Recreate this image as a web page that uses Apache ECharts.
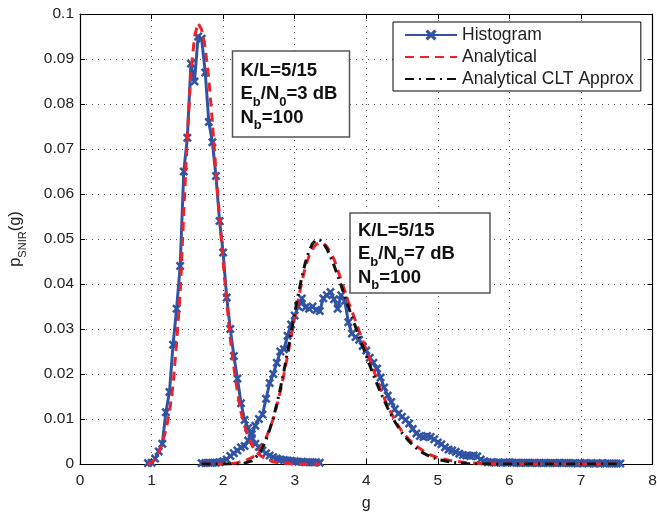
<!DOCTYPE html>
<html><head><meta charset="utf-8">
<script src="https://cdn.jsdelivr.net/npm/echarts@6/dist/echarts.min.js"></script>
<style>html,body{margin:0;padding:0;background:#fff}#c{width:657px;height:513px}</style>
</head><body><div id="c"></div>
<script>
// ---- data (g, p_SNIR(g)) ----
const histLow = [
[0.95,0.0002],[1.00,0.0003],[1.05,0.0012],[1.10,0.0028],[1.15,0.0045],[1.20,0.0115],[1.25,0.0160],
[1.30,0.0265],[1.35,0.0345],[1.40,0.0440],[1.45,0.0650],[1.50,0.0725],[1.55,0.0890],[1.60,0.0850],
[1.65,0.0950],[1.70,0.0945],[1.75,0.0870],[1.80,0.0760],[1.85,0.0715],[1.90,0.0640],[1.95,0.0540],
[2.00,0.0470],[2.05,0.0370],[2.10,0.0300],[2.15,0.0240],[2.20,0.0190],[2.25,0.0135],[2.30,0.0098],
[2.35,0.0080],[2.40,0.0058],[2.45,0.0045],[2.50,0.0038],[2.55,0.0030],[2.60,0.0024],[2.65,0.0019],
[2.70,0.0015],[2.75,0.0012],[2.80,0.0010],[2.85,0.0009],[2.90,0.0008],[2.95,0.0007],[3.00,0.0006],
[3.05,0.0005],[3.10,0.0005],[3.15,0.0004],[3.20,0.0004],[3.25,0.0004],[3.30,0.0004],[3.35,0.0003]
];
const histHigh = [
[1.70,0.0002],[1.75,0.0002],[1.80,0.0003],[1.85,0.0003],[1.90,0.0003],[1.95,0.0004],[2.00,0.0006],
[2.05,0.0010],[2.10,0.0018],[2.15,0.0024],[2.20,0.0030],[2.25,0.0037],[2.30,0.0040],[2.35,0.0052],
[2.40,0.0066],[2.45,0.0085],[2.50,0.0100],[2.55,0.0110],[2.60,0.0145],[2.65,0.0180],[2.70,0.0200],
[2.75,0.0225],[2.80,0.0250],[2.85,0.0255],[2.90,0.0285],[2.95,0.0310],[3.00,0.0330],[3.05,0.0350],
[3.10,0.0368],[3.15,0.0348],[3.20,0.0345],[3.25,0.0350],[3.30,0.0342],[3.35,0.0340],[3.40,0.0368],
[3.45,0.0375],[3.50,0.0382],[3.55,0.0366],[3.60,0.0345],[3.65,0.0375],[3.70,0.0362],[3.75,0.0315],
[3.80,0.0290],[3.85,0.0282],[3.90,0.0276],[3.95,0.0262],[4.00,0.0252],[4.05,0.0236],[4.10,0.0225],
[4.15,0.0212],[4.20,0.0192],[4.25,0.0170],[4.30,0.0152],[4.35,0.0138],[4.40,0.0122],[4.45,0.0112],
[4.50,0.0105],[4.55,0.0098],[4.60,0.0090],[4.65,0.0078],[4.70,0.0068],[4.75,0.0062],[4.80,0.0060],
[4.85,0.0062],[4.90,0.0060],[4.95,0.0055],[5.00,0.0048],[5.05,0.0044],[5.10,0.0037],[5.15,0.0032],
[5.20,0.0030],[5.25,0.0027],[5.30,0.0023],[5.35,0.0020],[5.40,0.0019],[5.45,0.0018],[5.50,0.0019],
[5.55,0.0017],[5.60,0.0010],[5.65,0.0006],[5.70,0.0004],[5.75,0.0004],[5.80,0.0003],[5.85,0.0004],
[5.90,0.0003],[5.95,0.0003],[6.00,0.0004],[6.05,0.0003],[6.10,0.0003],[6.15,0.0002],[6.20,0.0003],
[6.25,0.0003],[6.30,0.0002],[6.35,0.0003],[6.40,0.0002],[6.45,0.0002],[6.50,0.0003],[6.55,0.0002],
[6.60,0.0002],[6.65,0.0002],[6.70,0.0003],[6.75,0.0002],[6.80,0.0002],[6.85,0.0002],[6.90,0.0002],
[6.95,0.0001],[7.00,0.0002],[7.05,0.0002],[7.10,0.0001],[7.15,0.0002],[7.20,0.0001],[7.25,0.0001],
[7.30,0.0002],[7.35,0.0001],[7.40,0.0001],[7.45,0.0001],[7.50,0.0001],[7.55,0.0001]
];
const analyticLow = [
[0.95,0.0000],[1.00,0.0003],[1.05,0.0010],[1.10,0.0025],[1.15,0.0048],[1.20,0.0075],[1.25,0.0115],
[1.30,0.0175],[1.35,0.0270],[1.40,0.0380],[1.45,0.0560],[1.50,0.0730],[1.55,0.0870],[1.60,0.0950],
[1.65,0.0980],[1.70,0.0965],[1.75,0.0925],[1.80,0.0855],[1.85,0.0760],[1.90,0.0650],[1.95,0.0550],
[2.00,0.0450],[2.05,0.0360],[2.10,0.0280],[2.15,0.0215],[2.20,0.0160],[2.25,0.0115],[2.30,0.0085],
[2.35,0.0060],[2.40,0.0043],[2.45,0.0030],[2.50,0.0021],[2.60,0.0011],[2.70,0.0005],[2.80,0.0002],
[2.90,0.0001],[3.00,0.0000],[3.35,0.0000]
];
const analyticHigh = [
[1.70,0.0000],[2.00,0.0000],[2.10,0.0001],[2.20,0.0003],[2.30,0.0007],[2.40,0.0014],[2.45,0.0020],
[2.50,0.0030],[2.55,0.0042],[2.60,0.0058],[2.65,0.0078],[2.70,0.0100],[2.75,0.0130],[2.80,0.0162],
[2.85,0.0200],[2.90,0.0240],[2.95,0.0282],[3.00,0.0325],[3.05,0.0365],[3.10,0.0405],[3.15,0.0438],
[3.20,0.0462],[3.25,0.0478],[3.30,0.0488],[3.35,0.0492],[3.40,0.0490],[3.45,0.0483],[3.50,0.0470],
[3.55,0.0455],[3.60,0.0432],[3.65,0.0408],[3.70,0.0385],[3.75,0.0360],[3.80,0.0340],[3.85,0.0318],
[3.90,0.0296],[3.95,0.0275],[4.00,0.0254],[4.05,0.0232],[4.10,0.0210],[4.15,0.0188],[4.20,0.0166],
[4.30,0.0128],[4.40,0.0097],[4.50,0.0072],[4.60,0.0054],[4.70,0.0040],[4.80,0.0029],[4.90,0.0020],
[5.00,0.0014],[5.20,0.0007],[5.40,0.0003],[5.60,0.0001],[6.00,0.0000],[7.50,0.0000]
];
const cltHigh = [
[1.70,0.0000],[2.20,0.0000],[2.30,0.0002],[2.40,0.0007],[2.50,0.0022],[2.55,0.0036],[2.60,0.0054],
[2.65,0.0076],[2.70,0.0102],[2.75,0.0133],[2.80,0.0168],[2.85,0.0207],[2.90,0.0249],[2.95,0.0292],
[3.00,0.0335],[3.05,0.0377],[3.10,0.0415],[3.15,0.0448],[3.20,0.0473],[3.25,0.0490],[3.30,0.0498],
[3.35,0.0498],[3.40,0.0491],[3.45,0.0478],[3.50,0.0461],[3.55,0.0441],[3.60,0.0419],[3.65,0.0396],
[3.70,0.0373],[3.75,0.0350],[3.80,0.0327],[3.85,0.0305],[3.90,0.0283],[3.95,0.0262],[4.00,0.0240],
[4.05,0.0219],[4.10,0.0198],[4.15,0.0178],[4.20,0.0159],[4.30,0.0124],[4.40,0.0094],[4.50,0.0069],
[4.60,0.0050],[4.70,0.0035],[4.80,0.0024],[4.90,0.0016],[5.00,0.0010],[5.20,0.0004],[5.40,0.0001],
[5.60,0.0000],[7.50,0.0000]
];
const legendNames = ['Histogram','Analytical','Analytical CLT Approx'];

// ---- styling ----
const FONT = "'Liberation Sans', Arial, Helvetica, sans-serif";
const BLUE = '#3153a3', RED = '#ee2229', BLACK = '#111';
const XMARK = 'path://M0,2 L2,0 L5,3 L8,0 L10,2 L7,5 L10,8 L8,10 L5,7 L2,10 L0,8 L3,5 Z';
const gridDots = {show:true, lineStyle:{color:'#555', width:1, type:[1,5]}};

const chart = echarts.init(document.getElementById('c'), null, {renderer:'canvas'});

const richBox = {
  b:{fontSize:18.5, fontWeight:'bold', fontFamily:FONT, color:'#111', verticalAlign:'top'},
  s:{fontSize:13, fontWeight:'bold', fontFamily:FONT, color:'#111', verticalAlign:'bottom', padding:[11,0,0,0]}
};
function box(x, y, w, h, lines, dy) {
  const els = [{type:'rect', shape:{x:x, y:y, width:w, height:h},
    style:{fill:'#fff', stroke:'#555', lineWidth:1.5}, z:100}];
  lines.forEach((t, i) => {
    els.push({type:'text', x:x+8, y:y+dy+i*23.5, z:101,
      style:{text:t, fill:'#111', font:'bold 18.5px ' + FONT, verticalAlign:'top', rich:richBox}});
  });
  return els;
}

const option = {
  backgroundColor:'#fff',
  animation:false,
  textStyle:{fontFamily:FONT},
  grid:{left:80, right:4.5, top:14, bottom:49, show:false, containLabel:false, outerBoundsMode:'none'},
  legend:{
    orient:'vertical', left:393, top:22, itemWidth:52, itemHeight:14, itemGap:4,
    padding:[4,7,3,11], borderColor:'#000', borderWidth:1, backgroundColor:'#fff',
    textStyle:{fontSize:17.5, color:'#222', fontFamily:FONT},
    data:[
      {name:legendNames[0]},
      {name:legendNames[1], itemStyle:{opacity:0}},
      {name:legendNames[2], itemStyle:{opacity:0}}
    ]
  },
  xAxis:[{
    type:'value', min:0, max:8, interval:1, position:'bottom',
    name:'g', nameLocation:'middle', nameGap:32,
    nameTextStyle:{fontSize:16, color:'#222', fontFamily:FONT},
    axisLine:{onZero:false, lineStyle:{color:'#000', width:1.2}},
    axisTick:{inside:true, length:5, lineStyle:{color:'#000'}},
    axisLabel:{fontSize:15.5, color:'#222', margin:9, fontFamily:FONT},
    splitLine:gridDots
  },{
    type:'value', min:0, max:8, interval:1, position:'top',
    axisLine:{onZero:false, lineStyle:{color:'#000', width:1.2}},
    axisTick:{inside:true, length:5, lineStyle:{color:'#000'}},
    axisLabel:{show:false}, splitLine:{show:false}
  }],
  yAxis:[{
    type:'value', min:0, max:0.1, interval:0.01, position:'left',
    name:'{n|p}{s|SNIR}{n|(g)}', nameLocation:'middle', nameGap:52, nameRotate:90,
    nameTextStyle:{color:'#222', fontFamily:FONT,
      rich:{n:{fontSize:16.5, fontFamily:FONT, color:'#222', verticalAlign:'top'},
            s:{fontSize:11, fontFamily:FONT, color:'#222', verticalAlign:'bottom', padding:[10,0,0,0]}}},
    axisLine:{onZero:false, lineStyle:{color:'#000', width:1.2}},
    axisTick:{inside:true, length:5, lineStyle:{color:'#000'}},
    axisLabel:{fontSize:15.5, color:'#222', margin:6, fontFamily:FONT,
      formatter:v => v === 0 ? '0' : String(+v.toFixed(2))},
    splitLine:gridDots
  },{
    type:'value', min:0, max:0.1, interval:0.01, position:'right',
    axisLine:{onZero:false, lineStyle:{color:'#000', width:1.2}},
    axisTick:{inside:true, length:5, lineStyle:{color:'#000'}},
    axisLabel:{show:false}, splitLine:{show:false}
  }],
  series:[
    {name:'Histogram', type:'line', data:histLow, symbol:XMARK, symbolSize:9, showAllSymbol:true,
     lineStyle:{color:BLUE, width:3}, itemStyle:{color:BLUE}, z:2},
    {name:'Histogram', type:'line', data:histHigh, symbol:XMARK, symbolSize:9, showAllSymbol:true,
     lineStyle:{color:BLUE, width:3}, itemStyle:{color:BLUE}, z:2},
    {name:'Analytical', type:'line', data:analyticLow, symbol:'none', showSymbol:false,
     lineStyle:{color:RED, width:3, type:[9,6]}, itemStyle:{color:RED}, z:3},
    {name:'Analytical', type:'line', data:analyticHigh, symbol:'none', showSymbol:false,
     lineStyle:{color:RED, width:3, type:[9,6]}, itemStyle:{color:RED}, z:3},
    {name:'Analytical CLT Approx', type:'line', data:cltHigh, symbol:'none', showSymbol:false,
     lineStyle:{color:BLACK, width:3, type:[9,5,2,5]}, itemStyle:{color:BLACK}, z:4}
  ],
  graphic:[].concat(
    box(232.5, 51, 117, 86, ['{b|K/L=5/15}', '{b|E}{s|b}{b|/N}{s|0}{b|=3 dB}', '{b|N}{s|b}{b|=100}'], 10),
    box(350, 213, 140, 80, ['{b|K/L=5/15}', '{b|E}{s|b}{b|/N}{s|0}{b|=7 dB}', '{b|N}{s|b}{b|=100}'], 8)
  )
};
chart.setOption(option);
</script></body></html>
